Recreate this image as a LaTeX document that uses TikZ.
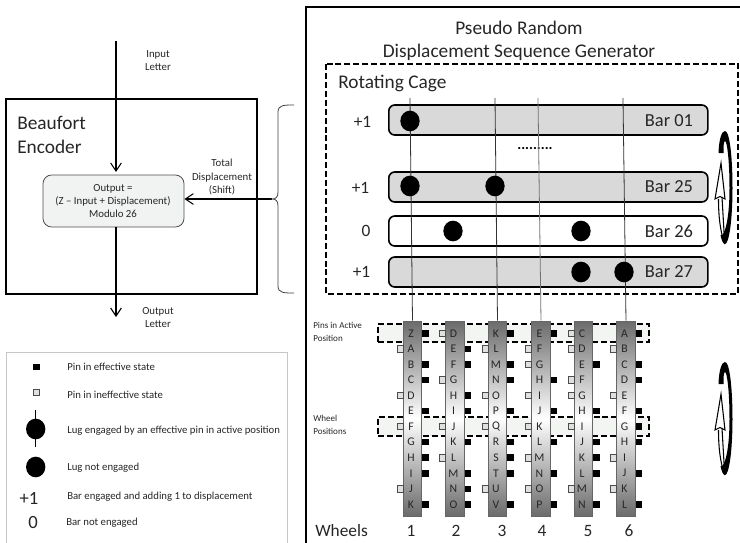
\documentclass[tikz,border=0pt]{standalone}
\usepackage{fontspec}
\setmainfont{Carlito}
\usetikzlibrary{shapes.geometric,arrows.meta}
\definecolor{bandfill}{HTML}{F3F5F3}
\definecolor{barfill}{HTML}{D9D9D9}
\definecolor{boxfill}{HTML}{F0F3F1}
\tikzset{
 txs/.style={font=\fontsize{8.1}{9.9}\selectfont,text=black!85,align=center,inner sep=0pt},
 txleg/.style={font=\fontsize{8.05}{9.9}\selectfont,text=black!85,anchor=west,inner sep=0pt},
 txtiny/.style={font=\fontsize{6.8}{10.2}\selectfont,text=black!85,anchor=west,align=left,inner sep=0pt},
 txm/.style={font=\fontsize{13.8}{15}\selectfont,text=black!85,inner sep=0pt},
 txl/.style={font=\fontsize{14.5}{17.2}\selectfont,text=black!85,align=center,inner sep=0pt},
 txe/.style={font=\fontsize{14.5}{18}\selectfont,text=black!85,anchor=west,align=left,inner sep=0pt},
 txk/.style={font=\fontsize{14}{15}\selectfont,text=black!85,inner sep=0pt},
 txw/.style={font=\fontsize{13}{15}\selectfont,text=black!85,inner sep=0pt},
 txlet/.style={font=\fontsize{8.8}{10}\selectfont,text=black!85,inner sep=0pt},
 barbox/.style={draw=black,line width=1.2pt,rounded corners=4.5pt,minimum height=22.5pt,minimum width=239.25pt,inner sep=0pt,anchor=west},
 lug/.style={ellipse,fill=black,draw=none,minimum width=14.5pt,minimum height=15.5pt,inner sep=0pt},
 wheelbar/.style={draw=black!60,line width=0.7pt,minimum width=14pt,minimum height=146.25pt,inner sep=0pt,top color=black!58,bottom color=black!58,middle color=white},
 pinon/.style={fill=black,draw=none,minimum size=4.9pt,inner sep=0pt},
 pinoff/.style={fill=black!12,draw=black!70,line width=0.5pt,minimum size=4.7pt,inner sep=0pt},
 band/.style={draw=black,fill=bandfill,line width=1.2pt,dash pattern=on 4.5pt off 2.2pt},
 wire/.style={draw=black!80,line width=0.6pt},
 flow/.style={draw=black,line width=0.8pt,-{Straight Barb[length=6pt,width=8pt,line width=0.8pt]}},
}
\begin{document}
\begin{tikzpicture}[x=0.75pt,y=-0.75pt]
\useasboundingbox (0,0) rectangle (740,543);
% right frame
\draw[line width=1.3pt] (306,543) -- (306,7) -- (740,7);
\node[txl] (title) at (519,40.5) {Pseudo Random\\Displacement Sequence Generator};
\draw[line width=1.2pt,dash pattern=on 4.5pt off 2.2pt] (326,64) rectangle (738,294);
\node[txl,anchor=west] (cage) at (338,83) {Rotating Cage};
% bars
\node[barbox,fill=barfill] (b1) at (388,120) {};
\node[barbox,fill=barfill] (b25) at (388,187) {};
\node[barbox,fill=white] (b26) at (388,231) {};
\node[barbox,fill=barfill] (b27) at (388,272) {};
\foreach \n/\y/\t in {b1/121/Bar 01,b25/187/Bar 25,b26/231/Bar 26,b27/272/Bar 27}
  \node[txm] (lab\n) at (669,\y) {\t};
\node[txw] (v1) at (362.5,122) {+1};
\node[txw] (v25) at (360.5,188) {+1};
\node[txw] (v26) at (366,231) {0};
\node[txw] (v27) at (361.5,272) {+1};
\node[inner sep=0pt,font=\bfseries\fontsize{11}{11}\selectfont] (dots) at (535,149) {.........};
% bands
\node[band,minimum width=203.25pt,minimum height=13.5pt,inner sep=0pt] (bandA) at (513.5,333) {};
\node[band,minimum width=203.25pt,minimum height=14.25pt,inner sep=0pt] (bandB) at (513.5,426.5) {};
\node[txtiny] (lA) at (313,332) {Pins in Active\\Position};
\node[txtiny] (lB) at (313,425) {Wheel\\Positions};
% wheels
\foreach \w/\cx/\seq in {
 1/412.5/{Z/R,A/L,B/R,C/R,D/L,E/R,F/L,G/R,H/R,I/R,J/L,K/R},
 2/455/{D/L,E/R,F/R,G/L,H/R,I/R,J/L,K/R,L/L,M/R,N/R,O/R},
 3/497.5/{K/R,L/L,M/R,N/R,O/L,P/R,Q/L,R/R,S/R,T/R,U/L,V/R},
 4/541/{E/R,F/L,G/L,H/R,I/L,J/R,K/L,L/R,M/L,N/R,O/L,P/R},
 5/583.5/{C/L,D/L,E/R,F/L,G/L,H/R,I/L,J/R,K/R,L/R,M/L,N/R},
 6/626/{A/R,B/L,C/R,D/R,E/L,F/R,G/R,H/R,I/L,J/R,K/L,L/R}}{
  \node[wheelbar] (w\w) at (\cx,418.5) {};
  \foreach \l/\p [count=\i from 0] in \seq {
    \pgfmathsetmacro{\yy}{333.3+15.55*\i}
    \node[txlet] (l\w-\i) at (\cx-1.5,\yy) {\l};
    \if\p R
      \node[pinon] (p\w-\i) at (\cx+13,\yy) {};
    \else
      \node[pinoff] (p\w-\i) at (\cx-12.5,\yy) {};
    \fi
  }
}
% wires and lugs
\coordinate (t1) at (410,98);
\coordinate (t3) at (495,98);
\coordinate (t4) at (538,98);
\coordinate (t6) at (623,98);
\draw[wire] (t1) -- (w1.north);
\draw[wire] (t3) -- (w3.north);
\draw[wire,draw=black!55] (t4) -- (w4.north);
\draw[wire] (t6) -- (w6.north);
\node[lug] (g1) at (410,121) {};
\node[lug] (g2) at (410,186) {};
\node[lug] (g3) at (495,186) {};
\node[lug] (g4) at (453,231) {};
\node[lug] (g5) at (581,231) {};
\node[lug] (g6) at (581,272) {};
\node[lug] (g7) at (624,272) {};
% wheel numbers
\node[txw,anchor=west] (wh) at (315,531) {Wheels};
\foreach \n/\x in {1/411,2/456,3/502,4/542,5/588,6/629}
  \node[txw] (num\n) at (\x,531) {\n};
% rotation marks
\foreach \d in {0,231}{
 \begin{scope}[yshift=-0.75pt*\d]
  \fill[black] (718.5,153) .. controls (719,138) and (722,131) .. (725,131)
     .. controls (730,131) and (732.5,160) .. (732.5,188)
     .. controls (732.5,220) and (729,244) .. (725,244)
     .. controls (723,244) and (721.5,240) .. (720.5,235)
     .. controls (723,238) and (729.5,225) .. (729.5,188)
     .. controls (729.5,160) and (727,141) .. (725,141)
     .. controls (723.5,141) and (723.5,148) .. (723.5,153) -- cycle;
  \draw[line width=0.8pt] (718.5,199) .. controls (718.5,215) and (720,232) .. (725,244);
  \draw[line width=0.8pt,fill=white,line join=miter] (721,163) -- (715,199) -- (720,196.5) -- (725,199) -- cycle;
  \draw[line width=0.8pt] (722,197) -- (724.5,240);
 \end{scope}
}
% encoder
\draw[line width=1.2pt] (6,99) rectangle (257,294);
\node[txe] (enc) at (17,135) {Beaufort\\Encoder};
\node[draw=black!70,fill=boxfill,line width=0.6pt,rounded corners=6.5pt,minimum width=105.75pt,minimum height=39pt,inner sep=0pt] (calc) at (113.5,201) {};
\node[txs] (calct) at (113,201) {Output =\\(Z – Input + Displacement)\\Modulo 26};
\coordinate (inA) at (116,41);
\coordinate (outB) at (116,317);
\coordinate (tip) at (272,199);
\draw[flow,shorten >=2pt] (inA) -- (inA |- calc.north);
\draw[flow] (outB |- calc.south) -- (outB);
\draw[flow] (tip) -- (tip -| calc.east);
\draw[black!75,line width=0.6pt] (294,105) .. controls (284,105) and (278,105) .. (278,112) -- (278,192) .. controls (278,197) and (276,199) .. (tip) .. controls (276,199) and (278,201) .. (278,206) -- (278,286) .. controls (278,293) and (284,293) .. (294,293);
\node[txs] (inl) at (158,60.5) {Input\\Letter};
\node[txs] (outl) at (158,317.5) {Output\\Letter};
\node[txs] (tot) at (222,177) {Total\\Displacement\\(Shift)};
% legend
\draw[black!22,line width=0.7pt] (6,543) -- (6,352) -- (287,352) -- (287,543);
\node[pinon,minimum size=5pt] (k1) at (36.5,367) {};
\node[pinoff,minimum size=4.6pt] (k2) at (36.5,392) {};
\node[lug] (k3) at (35.7,429) {};
\coordinate (k3a) at (35.7,410);
\coordinate (k3b) at (35.7,447);
\draw[line width=0.7pt] (k3a) -- (k3b);
\node[lug] (k4) at (35.7,467) {};
\node[txk] (k5) at (29,498) {+1};
\node[txk] (k6) at (33,523) {0};
\node[txleg] (d1) at (67,367) {Pin in effective state};
\node[txleg] (d2) at (67,395) {Pin in ineffective state};
\node[txleg] (d3) at (67,431) {Lug engaged by an effective pin in active position};
\node[txleg] (d4) at (67,468) {Lug not engaged};
\node[txleg] (d5) at (67,497) {Bar engaged and adding 1 to displacement};
\node[txleg] (d6) at (66,523) {Bar not engaged};
\end{tikzpicture}
\end{document}
